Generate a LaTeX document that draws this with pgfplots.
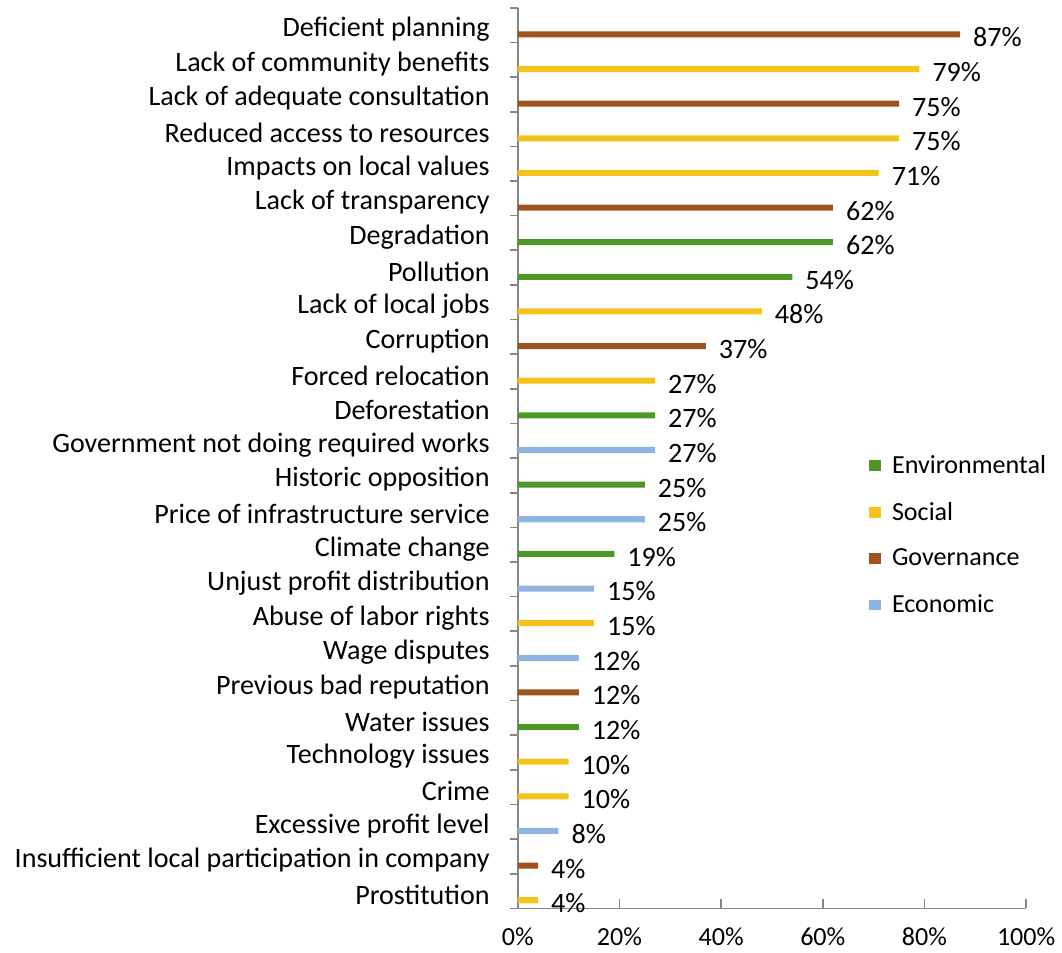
\documentclass[border=0pt]{standalone}
\usepackage{fontspec}
\setmainfont{Carlito}
\usepackage{pgfplots}
\pgfplotsset{compat=1.18}
\pgfkeys{/pgf/number format/assume math mode=true}
\definecolor{env}{RGB}{77,150,40}
\definecolor{soc}{RGB}{242,196,28}
\definecolor{gov}{RGB}{160,82,30}
\definecolor{eco}{RGB}{141,180,226}
\definecolor{axgray}{RGB}{134,134,134}
\begin{document}
\begin{tikzpicture}
\begin{axis}[
  scale only axis, width=253.5pt, height=449pt,
  font=\fontsize{14}{16}\selectfont,
  xbar, bar width=3pt, bar shift=-4.6pt,
  xmin=0, xmax=100, ymin=-0.5, ymax=25.5,
  axis x line*=bottom, axis y line*=left,
  axis line style={axgray, line width=0.8pt, -},
  xtick={0,20,...,100},
  xticklabel={\pgfmathprintnumber{\tick}\%},
  xtick align=inside,
  major tick length=4.5pt,
  x tick style={axgray, line width=0.8pt},
  ytick={0,...,25},
  yticklabels={Prostitution,Insufficient local participation in company,Excessive profit level,Crime,Technology issues,Water issues,Previous bad reputation,Wage disputes,Abuse of labor rights,Unjust profit distribution,Climate change,Price of infrastructure service,Historic opposition,Government not doing required works,Deforestation,Forced relocation,Corruption,Lack of local jobs,Pollution,Degradation,Lack of transparency,Impacts on local values,Reduced access to resources,Lack of adequate consultation,Lack of community benefits,Deficient planning},
  major y tick style={draw=none},
  minor ytick={-0.5,0.5,...,25.5},
  minor y tick style={axgray, line width=0.8pt},
  ytick align=outside,
  minor tick length=4pt,
  yticklabel style={yshift=-2pt, xshift=-6pt},
  xticklabel style={yshift=-6pt, font=\fontsize{13}{15}\selectfont},
  point meta=x,
  nodes near coords={\pgfmathprintnumber{\pgfplotspointmeta}\%},
  every node near coord/.append style={xshift=3pt, yshift=-1.5pt, font=\fontsize{14}{16}\selectfont},
  legend style={at={(0.69,0.508)}, anchor=north west, draw=none, fill=none,
    font=\fontsize{13}{15}\selectfont, row sep=8.8pt, column sep=3.5pt, inner sep=0pt},
  legend cell align=left,
  legend image code/.code={\fill[#1,draw=none] (0pt,-2.7pt) rectangle (6pt,2.7pt);},
]
\addplot[fill=env, draw=none] coordinates {(62,19) (54,18) (27,14) (25,12) (19,10) (12,5)};
\addplot[fill=soc, draw=none] coordinates {(79,24) (75,22) (71,21) (48,17) (27,15) (15,8) (10,4) (10,3) (4,0)};
\addplot[fill=gov, draw=none] coordinates {(87,25) (75,23) (62,20) (37,16) (12,6) (4,1)};
\addplot[fill=eco, draw=none] coordinates {(27,13) (25,11) (15,9) (12,7) (8,2)};
\legend{Environmental,Social,Governance,Economic}
\end{axis}
\path ([xshift=-4pt]current bounding box.west) ([yshift=3.5pt]current bounding box.north);
\end{tikzpicture}
\end{document}
